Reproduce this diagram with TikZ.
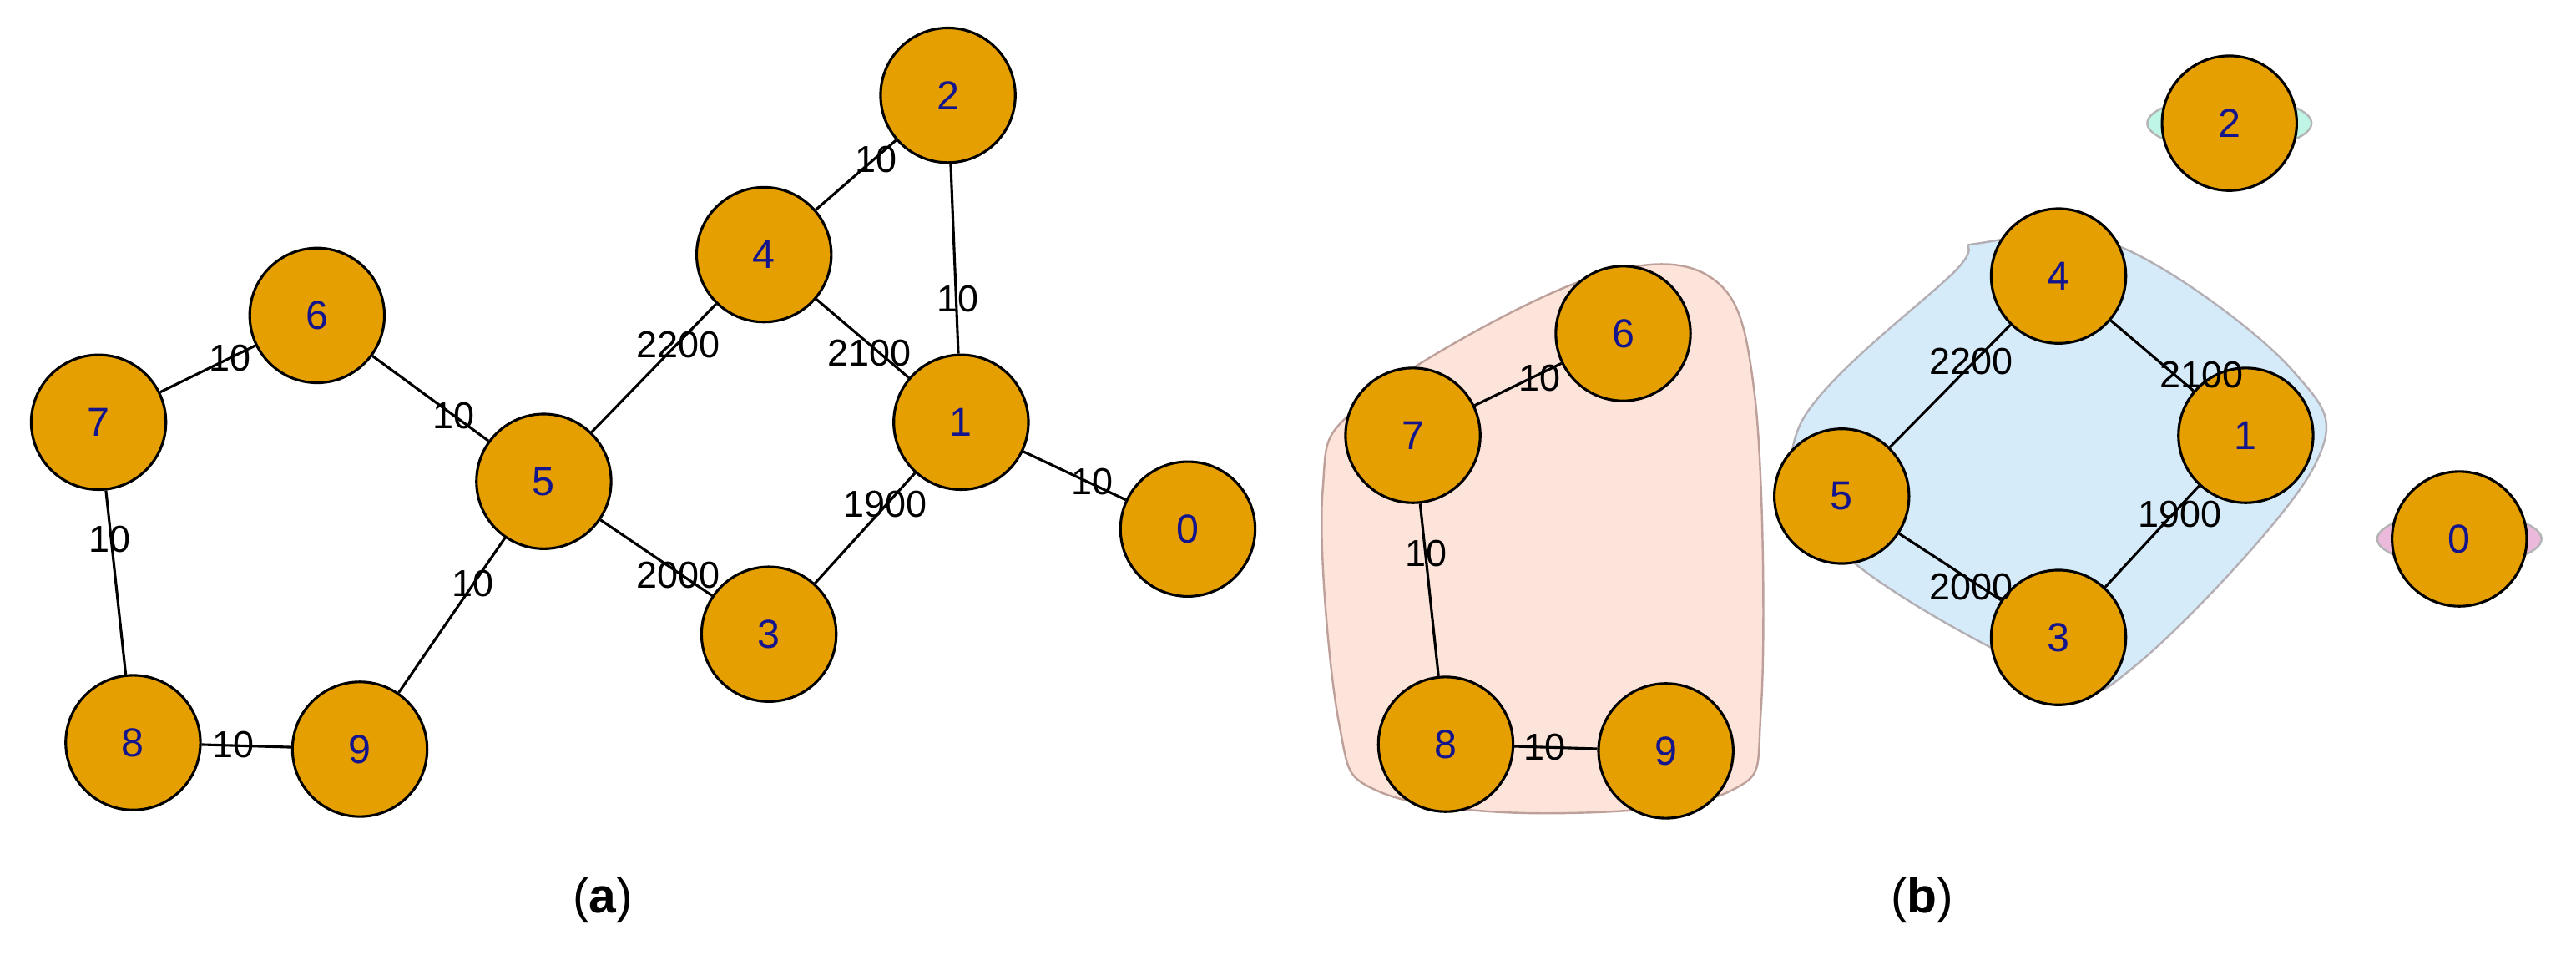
\documentclass[tikz,border=0pt]{standalone}
\usepackage{fontspec}
\setmainfont{Liberation Sans}
\begin{document}
\begin{tikzpicture}[x=0.02cm,y=-0.02cm,
  v/.style={circle,draw=black,line width=0.9pt,fill={rgb,255:red,230;green,159;blue,0},minimum size=1.64cm,inner sep=0pt,text={rgb,255:red,20;green,20;blue,140},font=\fontsize{14}{14}\selectfont},
  e/.style={line width=0.9pt},
  l/.style={font=\fontsize{13}{13}\selectfont,inner sep=0pt},
  captxt/.style={font=\fontsize{17}{17}\selectfont}]
\useasboundingbox (0,0) rectangle (1568,581);
% hulls (b)
\filldraw[draw={rgb,255:red,190;green,160;blue,155},fill={rgb,255:red,253;green,228;blue,218},line width=0.7pt]
 plot[smooth cycle,tension=0.6] coordinates{(830,245)(960,172)(1040,168)(1068,240)(1072,430)(1052,482)(940,495)(840,482)(815,440)(805,300)};
\filldraw[draw={rgb,255:red,180;green,175;blue,180},fill={rgb,255:red,214;green,235;blue,250},line width=0.7pt]
 plot[smooth cycle,tension=0.6] coordinates{(1205,148)(1290,150)(1395,225)(1408,285)(1300,405)(1250,412)(1120,335)(1095,260)(1190,165)};
\filldraw[draw={rgb,255:red,180;green,180;blue,180},fill={rgb,255:red,190;green,245;blue,230},line width=0.7pt] (1357,75) ellipse (50 and 16);
\filldraw[draw={rgb,255:red,180;green,180;blue,180},fill={rgb,255:red,235;green,185;blue,220},line width=0.7pt] (1497,328) ellipse (50 and 16);
% (a)
\node[v] (a2) at (577,58) {2};
\node[v] (a4) at (465,155) {4};
\node[v] (a6) at (193,192) {6};
\node[v] (a7) at (60,257) {7};
\node[v] (a1) at (585,257) {1};
\node[v] (a5) at (331,293) {5};
\node[v] (a0) at (723,322) {0};
\node[v] (a3) at (468,386) {3};
\node[v] (a8) at (81,452) {8};
\node[v] (a9) at (219,456) {9};
\draw[e] (a2)--(a4) (a2)--(a1) (a4)--(a5) (a4)--(a1) (a7)--(a6) (a6)--(a5) (a1)--(a0) (a1)--(a3) (a5)--(a3) (a5)--(a9) (a7)--(a8) (a8)--(a9);
\node[l] (la1) at (533,97) {10};
\node[l] (la2) at (583,182) {10};
\node[l] (la3) at (413,210) {2200};
\node[l] (la4) at (529,215) {2100};
\node[l] (la5) at (140,218) {10};
\node[l] (la6) at (276,253) {10};
\node[l] (la7) at (665,293) {10};
\node[l] (la8) at (539,307) {1900};
\node[l] (la9) at (413,350) {2000};
\node[l] (la10) at (288,355) {10};
\node[l] (la11) at (67,328) {10};
\node[l] (la12) at (142,453) {10};
% (b)
\node[v] (b2) at (1357,75) {2};
\node[v] (b4) at (1253,168) {4};
\node[v] (b6) at (988,203) {6};
\node[v] (b7) at (860,265) {7};
\node[v] (b1) at (1367,265) {1};
\node[v] (b5) at (1121,302) {5};
\node[v] (b0) at (1497,328) {0};
\node[v] (b3) at (1253,388) {3};
\node[v] (b8) at (880,453) {8};
\node[v] (b9) at (1014,457) {9};
\draw[e] (b7)--(b6) (b7)--(b8) (b8)--(b9) (b4)--(b5) (b4)--(b1) (b1)--(b3) (b5)--(b3);
\node[l] (lb1) at (937,230) {10};
\node[l] (lb2) at (868,337) {10};
\node[l] (lb3) at (940,455) {10};
\node[l] (lb4) at (1200,220) {2200};
\node[l] (lb5) at (1340,228) {2100};
\node[l] (lb6) at (1327,313) {1900};
\node[l] (lb7) at (1200,357) {2000};
\node[captxt] (ca) at (367,548) {(\textbf{a})};
\node[captxt] (cb) at (1170,548) {(\textbf{b})};
\end{tikzpicture}
\end{document}
